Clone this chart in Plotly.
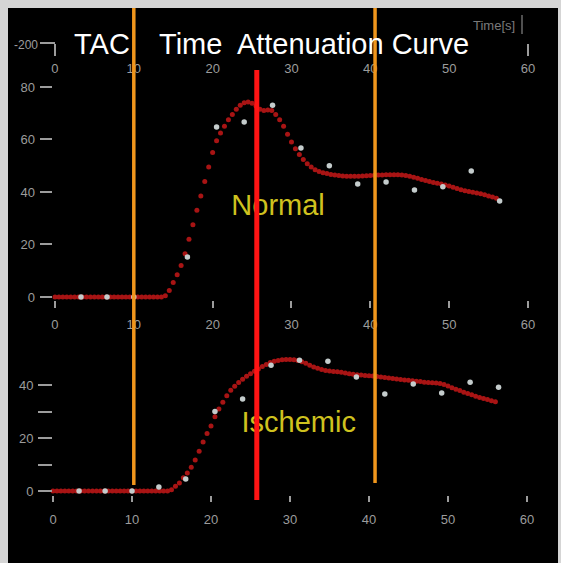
import plotly.graph_objects as go

W, H = 561, 563

# ---------------- data ----------------
TICK_X = [0, 10, 20, 30, 40, 50, 60]
TICK_X_TEXT = ["0", "10", "20", "30", "40", "50", "60"]
TICK_Y_TOP = [0, 20, 40, 60, 80]
TICK_Y_TOP_TEXT = ["0", "20", "40", "60", "80"]
TICK_Y_BOT = [0, 10, 20, 30, 40]
TICK_Y_BOT_TEXT = ["0", "", "20", "", "40"]

# measured samples (dots)
NORMAL_T = [3.3, 6.6, 10.0, 16.8, 20.5, 24.0, 27.6, 31.2, 34.8, 38.4, 42.0, 45.6, 49.2, 52.8, 56.4]
NORMAL_V = [0, 0, 0, 15.2, 64.8, 66.7, 73.0, 56.8, 50.0, 43.0, 43.8, 40.8, 42.0, 48.0, 36.6]
ISCH_T = [3.3, 6.6, 10.0, 13.4, 16.8, 20.5, 24.0, 27.6, 31.2, 34.8, 38.4, 42.0, 45.6, 49.2, 52.8, 56.4]
ISCH_V = [0, 0, 0, 1.5, 4.5, 30.0, 34.7, 47.5, 49.4, 49.0, 43.0, 36.6, 40.4, 37.0, 41.1, 39.2]

# fitted curves (dense dotted red curve)
CURVE_T = [
    0, 0.5, 1, 1.5, 2, 2.5, 3, 3.5, 4, 4.5,
    5, 5.5, 6, 6.5, 7, 7.5, 8, 8.5, 9, 9.5,
    10, 10.5, 11, 11.5, 12, 12.5, 13, 13.5, 14, 14.5,
    15, 15.5, 16, 16.5, 17, 17.5, 18, 18.5, 19, 19.5,
    20, 20.5, 21, 21.5, 22, 22.5, 23, 23.5, 24, 24.5,
    25, 25.5, 26, 26.5, 27, 27.5, 28, 28.5, 29, 29.5,
    30, 30.5, 31, 31.5, 32, 32.5, 33, 33.5, 34, 34.5,
    35, 35.5, 36, 36.5, 37, 37.5, 38, 38.5, 39, 39.5,
    40, 40.5, 41, 41.5, 42, 42.5, 43, 43.5, 44, 44.5,
    45, 45.5, 46, 46.5, 47, 47.5, 48, 48.5, 49, 49.5,
    50, 50.5, 51, 51.5, 52, 52.5, 53, 53.5, 54, 54.5,
    55, 55.5, 56,
]
NORMAL_FIT = [
    0, 0, 0, 0, 0, 0, 0, 0, 0, 0,
    0, 0, 0, 0, 0, 0, 0, 0, 0, 0,
    0, 0, 0, 0, 0, 0, 0, 0, 0.5, 2.5,
    5.5, 8.5, 12, 16.5, 22, 27.5, 33, 38.5, 44, 49.5,
    55, 59.5, 62.5, 65, 67.5, 69.5, 71.5, 73, 74, 74.3,
    73.8, 72.8, 71.5, 71, 71.2, 71, 69.5, 67.5, 65, 62,
    59, 56.5, 54.3, 52.4, 50.8, 49.5, 48.5, 47.8, 47.3, 47,
    46.7, 46.5, 46.3, 46.1, 46, 46, 46, 46, 46.1, 46.2,
    46.3, 46.4, 46.5, 46.5, 46.6, 46.6, 46.6, 46.6, 46.5, 46.3,
    46, 45.6, 45.2, 44.8, 44.4, 44, 43.6, 43.3, 43, 42.7,
    42.3, 41.8, 41.3, 40.9, 40.5, 40.2, 39.9, 39.6, 39.3, 38.9,
    38.5, 38.1, 37.6,
]
ISCH_FIT = [
    0, 0, 0, 0, 0, 0, 0, 0, 0, 0,
    0, 0, 0, 0, 0, 0, 0, 0, 0, 0,
    0, 0, 0, 0, 0, 0, 0, 0, 0, 0,
    0.5, 1.8, 3, 5, 6.8, 9, 11.7, 15, 18.5, 21.7,
    24.5, 28, 31, 33.5, 36, 38, 39.5, 41, 42.2, 43.3,
    44.3, 45.2, 46.1, 47, 47.8, 48.5, 49, 49.3, 49.5, 49.6,
    49.6, 49.5, 49.3, 48.8, 48.2, 47.5, 46.8, 46.3, 45.9, 45.5,
    45.3, 45.1, 45, 44.8, 44.5, 44.3, 44.1, 43.9, 43.8, 43.6,
    43.5, 43.4, 43.2, 43, 42.8, 42.7, 42.5, 42.3, 42.1, 41.9,
    41.8, 41.6, 41.4, 41.3, 41.1, 41, 40.9, 40.8, 40.6, 40.2,
    39.6, 39, 38.4, 37.9, 37.3, 36.8, 36.3, 35.8, 35.3, 34.9,
    34.5, 34.1, 33.7,
]

MARK_ORANGE_1 = 10.0
MARK_ORANGE_2 = 40.6
MARK_RED = 25.6

# ---------------- styling ----------------
BG_OUT = "#d5d5d5"
TICK_COL = "#9c9c9c"
CURVE_COL = "#a81414"
DOT_COL = "#c4cccc"
YELLOW = "#cfc21f"
ORANGE = "#f0961c"
RED = "#ff1414"
FONT = "Liberation Sans"


def pxx(p):
    return p / W


def pxy(p):
    return 1 - p / H


fig = go.Figure()

# top panel
fig.add_trace(go.Scatter(x=CURVE_T, y=NORMAL_FIT, mode="markers", xaxis="x", yaxis="y",
                         marker=dict(color=CURVE_COL, size=5, line=dict(width=0)),
                         cliponaxis=False, hoverinfo="skip"))
fig.add_trace(go.Scatter(x=NORMAL_T, y=NORMAL_V, mode="markers", xaxis="x", yaxis="y",
                         marker=dict(color=DOT_COL, size=5.5, line=dict(width=0)),
                         cliponaxis=False))
fig.add_trace(go.Scatter(x=[28.3], y=[34.0], mode="text", text=["Normal"], xaxis="x", yaxis="y",
                         textfont=dict(family=FONT, size=29, color=YELLOW), cliponaxis=False))

# bottom panel
fig.add_trace(go.Scatter(x=CURVE_T, y=ISCH_FIT, mode="markers", xaxis="x2", yaxis="y2",
                         marker=dict(color=CURVE_COL, size=5, line=dict(width=0)),
                         cliponaxis=False, hoverinfo="skip"))
fig.add_trace(go.Scatter(x=ISCH_T, y=ISCH_V, mode="markers", xaxis="x2", yaxis="y2",
                         marker=dict(color=DOT_COL, size=5.5, line=dict(width=0)),
                         cliponaxis=False))
fig.add_trace(go.Scatter(x=[31.1], y=[25.0], mode="text", text=["Ischemic"], xaxis="x2", yaxis="y2",
                         textfont=dict(family=FONT, size=29, color=YELLOW), cliponaxis=False))

# dummy traces so the extra top axes are drawn
fig.add_trace(go.Scatter(x=[None], y=[None], xaxis="x3", yaxis="y", showlegend=False))
fig.add_trace(go.Scatter(x=[None], y=[None], xaxis="x4", yaxis="y", showlegend=False))

tickfont = dict(family=FONT, size=13, color=TICK_COL)
common_x = dict(showgrid=False, zeroline=False, showline=False, tickvals=TICK_X, ticktext=TICK_X_TEXT,
                tickfont=tickfont, tickcolor=TICK_COL, tickwidth=2, fixedrange=True)

fig.update_layout(
    width=W, height=H, margin=dict(l=0, r=0, t=0, b=0, autoexpand=False),
    paper_bgcolor=BG_OUT, plot_bgcolor="#000000", showlegend=False,
    xaxis=dict(domain=[pxx(52.6), pxx(528)], range=[-0.3, 60], anchor="y",
               ticks="outside", ticklen=7, ticklabelstandoff=6, **common_x),
    yaxis=dict(domain=[pxy(299.6), pxy(81.75)], range=[-1, 82], anchor="x",
               showgrid=False, zeroline=False, showline=False,
               tickvals=TICK_Y_TOP, ticktext=TICK_Y_TOP_TEXT, ticks="outside", ticklen=12,
               tickwidth=2, tickcolor=TICK_COL, tickfont=tickfont, ticklabelstandoff=2),
    xaxis3=dict(overlaying="x", matches="x", anchor="free", position=pxy(43), side="bottom",
                ticks="", ticklabelstandoff=16, **common_x),
    xaxis4=dict(overlaying="x", matches="x", anchor="free", position=pxy(43), side="bottom",
                ticks="outside", ticklen=12, showticklabels=False,
                showgrid=False, zeroline=False, showline=False, tickvals=[0, 60],
                tickcolor=TICK_COL, tickwidth=2),
    xaxis2=dict(domain=[pxx(53), pxx(527)], range=[0, 60], anchor="y2",
                ticks="outside", ticklen=6, ticklabelstandoff=6, **common_x),
    yaxis2=dict(domain=[pxy(495), pxy(345.3)], range=[-1.5, 55], anchor="x2",
                showgrid=False, zeroline=False, showline=False,
                tickvals=TICK_Y_BOT, ticktext=TICK_Y_BOT_TEXT, ticks="outside", ticklen=14,
                tickwidth=2, tickcolor=TICK_COL, tickfont=tickfont, ticklabelstandoff=2),
)

shapes = [
    dict(type="rect", xref="paper", yref="paper", x0=pxx(8), x1=pxx(558), y0=0, y1=pxy(8),
         fillcolor="#000000", line=dict(width=0), layer="below"),
    dict(type="line", xref="paper", yref="paper", x0=pxx(40), x1=pxx(55), y0=pxy(43), y1=pxy(43),
         line=dict(color=TICK_COL, width=2)),
    dict(type="line", xref="paper", yref="paper", x0=pxx(522), x1=pxx(522), y0=pxy(15), y1=pxy(34),
         line=dict(color="#6a6a6a", width=1.5)),
    dict(type="line", xref="x", yref="paper", x0=MARK_ORANGE_1, x1=MARK_ORANGE_1, y0=pxy(485), y1=pxy(8),
         line=dict(color=ORANGE, width=3.5), layer="above"),
    dict(type="line", xref="x", yref="paper", x0=MARK_ORANGE_2, x1=MARK_ORANGE_2, y0=pxy(483), y1=pxy(8),
         line=dict(color=ORANGE, width=3.5), layer="above"),
    dict(type="line", xref="x", yref="paper", x0=MARK_RED, x1=MARK_RED, y0=pxy(500), y1=pxy(70),
         line=dict(color=RED, width=5), layer="above"),
]
fig.update_layout(shapes=shapes)

fig.update_layout(annotations=[
    dict(text="TAC", xref="paper", yref="paper", x=pxx(72), y=pxy(44), xanchor="left", yanchor="middle",
         showarrow=False, font=dict(family=FONT, size=29, color="#ffffff")),
    dict(text="Time  Attenuation Curve", xref="paper", yref="paper", x=pxx(157), y=pxy(44),
         xanchor="left", yanchor="middle", showarrow=False,
         font=dict(family=FONT, size=29, color="#ffffff")),
    dict(text="-200", xref="paper", yref="paper", x=pxx(26), y=pxy(45), xanchor="center", yanchor="middle",
         showarrow=False, font=dict(family=FONT, size=12, color=TICK_COL)),
    dict(text="Time[s]", xref="paper", yref="paper", x=pxx(494), y=pxy(25), xanchor="center", yanchor="middle",
         showarrow=False, font=dict(family=FONT, size=13, color="#7a7a7a")),
])

fig.write_html(
    "out.html",
    post_script="document.body.style.margin='0';document.documentElement.style.overflow='hidden';",
)
